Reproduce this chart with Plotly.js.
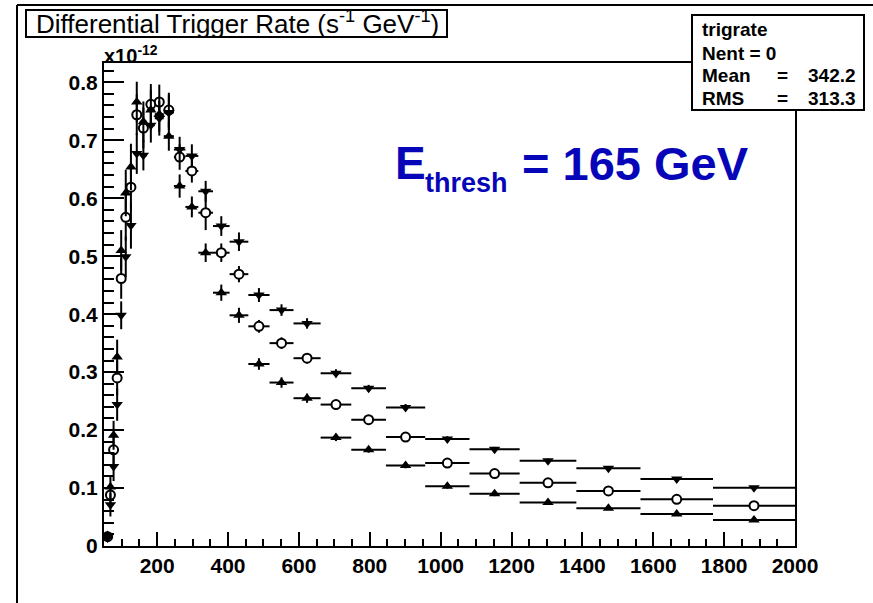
<!DOCTYPE html>
<html>
<head>
<meta charset="utf-8">
<script src="https://cdn.plot.ly/plotly-3.0.1.min.js"></script>
<style>html,body{margin:0;padding:0;background:#fff;}#chart{width:873px;height:603px;}</style>
</head>
<body>
<div id="chart"></div>
<script>
// Bin edges (GeV), 30 log-spaced bins
const binEdges = [50, 56.54, 63.94, 72.31, 81.77, 92.47, 104.57, 118.25, 133.72, 151.21, 171.0, 193.37, 218.68, 247.29, 279.65, 316.23, 357.61, 404.4, 457.31, 517.15, 584.8, 661.32, 747.85, 845.7, 956.35, 1081.48, 1222.98, 1383.0, 1563.95, 1768.59, 2000];
// Differential trigger rate (x1e-12 s^-1 GeV^-1)
const rateUp = [null, 0.018, 0.102, 0.191, 0.326, 0.510, 0.609, 0.654, 0.766, 0.732, 0.752, 0.745, 0.707, 0.621, 0.585, 0.506, 0.437, 0.398, 0.314, 0.282, 0.255, 0.187, 0.166, 0.139, 0.103, 0.090, 0.075, 0.065, 0.055, 0.045];
const rateCircle = [null, 0.016, 0.088, 0.166, 0.290, 0.4615, 0.567, 0.619, 0.744, 0.721, 0.762, 0.766, 0.752, 0.671, 0.647, 0.575, 0.506, 0.469, 0.379, 0.350, 0.324, 0.244, 0.218, 0.188, 0.143, 0.125, 0.109, 0.095, 0.0805, 0.0695];
const rateDown = [null, 0.014, 0.071, 0.137, 0.244, 0.398, 0.499, 0.553, 0.677, 0.674, 0.726, 0.738, 0.748, 0.684, 0.673, 0.612, 0.552, 0.525, 0.433, 0.407, 0.384, 0.298, 0.272, 0.239, 0.1845, 0.167, 0.147, 0.134, 0.1155, 0.1006];
const errUp = [0, 0.006, 0.02, 0.025, 0.03, 0.035, 0.04, 0.04, 0.035, 0.035, 0.035, 0.03, 0.025, 0.02, 0.018, 0.016, 0.014, 0.013, 0.01, 0.009, 0.008, 0.006, 0.005, 0.005, 0.004, 0.004, 0.003, 0.003, 0.003, 0.003];
const errCircle = [0, 0.006, 0.02, 0.025, 0.03, 0.035, 0.04, 0.04, 0.035, 0.035, 0.035, 0.03, 0.03, 0.022, 0.02, 0.03, 0.016, 0.014, 0.011, 0.01, 0.009, 0.007, 0.006, 0.005, 0.005, 0.004, 0.004, 0.003, 0.003, 0.003];
const errDown = [0, 0.006, 0.02, 0.025, 0.028, 0.024, 0.035, 0.04, 0.035, 0.026, 0.03, 0.03, 0.03, 0.022, 0.02, 0.018, 0.017, 0.016, 0.012, 0.01, 0.009, 0.007, 0.006, 0.006, 0.005, 0.004, 0.004, 0.003, 0.003, 0.003];
const xTickVals = [200, 400, 600, 800, 1000, 1200, 1400, 1600, 1800, 2000];
const yTickVals = [0, 0.1, 0.2, 0.3, 0.4, 0.5, 0.6, 0.7, 0.8];
const titleText = 'Differential Trigger Rate (s<sup>-1</sup> GeV<sup>-1</sup>)';
const statsName = 'trigrate';
const statsLabels = ['Nent = 0', 'Mean', 'RMS'];
const statsValues = ['', '342.2', '313.3'];

const centers = binEdges.slice(0, -1).map((e, i) => (e + binEdges[i + 1]) / 2);
const halfW = binEdges.slice(0, -1).map((e, i) => (binEdges[i + 1] - e) / 2);

const W = 873, H = 603, L = 104, R = 78, T = 63, B = 57;
const PW = W - L - R, PH = H - T - B;
const px = x => (x - L) / PW;
const py = y => (H - B - y) / PH;
const FONT = 'Liberation Sans, Arial, Helvetica, sans-serif';
const BLUE = '#0606b8';

function series(y, err, marker) {
  return {
    x: centers, y: y, type: 'scatter', mode: 'markers',
    marker: marker,
    error_x: {type: 'data', array: halfW, visible: true, width: 0, thickness: 2, color: '#000'},
    error_y: {type: 'data', array: err, visible: true, width: 0, thickness: 2, color: '#000'},
    showlegend: false, hoverinfo: 'skip'
  };
}
const data = [
  series(rateCircle, errCircle, {symbol: 'circle', size: 9, color: '#fff', line: {color: '#000', width: 2}}),
  series(rateUp, errUp, {symbol: 'triangle-up', size: 10, color: '#000'}),
  series(rateDown, errDown, {symbol: 'triangle-down', size: 10, color: '#000'})
];

function ann(text, x, y, xanchor, size, color, bold) {
  return {text: text, xref: 'paper', yref: 'paper', x: px(x), y: py(y), xanchor: xanchor, yanchor: 'middle', showarrow: false,
    font: {family: FONT, size: size, color: color, weight: bold ? 'bold' : 'normal'}};
}
const annotations = [
  ann(titleText, 237, 23, 'center', 26, '#000', false),
  ann('x10<sup>-12</sup>', 102, 54, 'left', 20, '#000', true),
  ann('E', 393, 163, 'left', 46, BLUE, true),
  ann('thresh', 423, 183, 'left', 27, BLUE, true),
  ann('= 165 GeV', 520, 163, 'left', 47, BLUE, true),
  ann(statsName, 700, 30, 'left', 19, '#000', true)
];
const statsY = [53, 76, 98];
statsLabels.forEach((s, i) => {
  annotations.push(ann(s, 700, statsY[i], 'left', 19, '#000', true));
  if (statsValues[i]) {
    annotations.push(ann('=', 782, statsY[i], 'center', 19, '#000', true));
    annotations.push(ann(statsValues[i], 858, statsY[i], 'right', 19, '#000', true));
  }
});

const shapes = [
  {type: 'line', xref: 'paper', yref: 'paper', x0: px(17), x1: px(17), y0: py(5), y1: py(603), line: {color: '#000', width: 2}},
  {type: 'line', xref: 'paper', yref: 'paper', x0: px(17), x1: px(873), y0: py(5), y1: py(5), line: {color: '#000', width: 2}},
  {type: 'rect', xref: 'paper', yref: 'paper', x0: px(26), x1: px(447), y0: py(10), y1: py(37), line: {color: '#000', width: 2}, fillcolor: '#fff', layer: 'below'},
  {type: 'rect', xref: 'paper', yref: 'paper', x0: px(692), x1: px(864), y0: py(15), y1: py(110), line: {color: '#000', width: 2}, fillcolor: '#fff', layer: 'above'}
];

const layout = {
  width: W, height: H,
  margin: {l: L, r: R, t: T, b: B, pad: 0},
  paper_bgcolor: '#fff', plot_bgcolor: '#fff',
  showlegend: false,
  xaxis: {
    range: [50, 2000], tickmode: 'array', tickvals: xTickVals, ticktext: xTickVals.map(String),
    ticks: 'inside', ticklen: 14, tickwidth: 2, tickcolor: '#000',
    minor: {dtick: 50, tick0: 0, ticks: 'inside', ticklen: 7, tickwidth: 2, tickcolor: '#000', showgrid: false},
    showline: true, linewidth: 2, linecolor: '#000', mirror: true,
    showgrid: false, zeroline: false,
    tickfont: {family: FONT, size: 21, color: '#000', weight: 'bold'}
  },
  yaxis: {
    range: [0, 0.8333], tickmode: 'array', tickvals: yTickVals, ticktext: yTickVals.map(String),
    ticks: 'inside', ticklen: 20, tickwidth: 2, tickcolor: '#000',
    minor: {dtick: 0.02, tick0: 0, ticks: 'inside', ticklen: 10, tickwidth: 2, tickcolor: '#000', showgrid: false},
    showline: true, linewidth: 2, linecolor: '#000', mirror: true,
    showgrid: false, zeroline: false,
    tickfont: {family: FONT, size: 21, color: '#000', weight: 'bold'}
  },
  annotations: annotations,
  shapes: shapes
};
Plotly.newPlot('chart', data, layout, {staticPlot: true, displayModeBar: false});
</script>
</body>
</html>
